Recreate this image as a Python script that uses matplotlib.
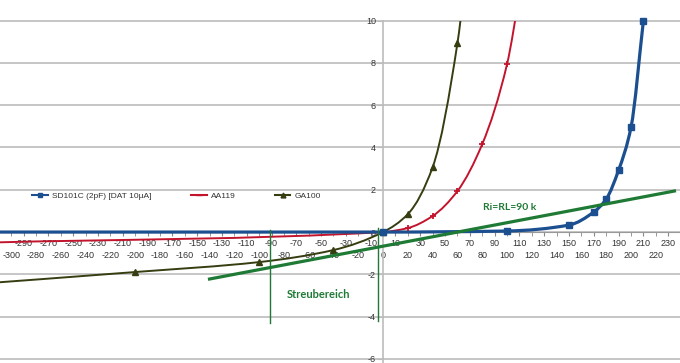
import numpy as np
import matplotlib
matplotlib.use("Agg")
import matplotlib.pyplot as plt
from matplotlib.path import Path
from matplotlib.patches import PathPatch, Rectangle
from matplotlib.lines import Line2D
from matplotlib.ticker import FormatStrFormatter

plt.rcParams['font.family'] = ['Liberation Sans', 'DejaVu Sans']

# diode curves: voltage (mV) vs current (µA)
sd_x = [-320, 0, 100, 150, 170, 180, 190, 200, 210]
sd_y = [0.0, 0.0, 0.05, 0.33, 0.95, 1.56, 2.93, 4.96, 10.0]

aa_x = [-320, 0, 20, 40, 60, 80, 100, 110]
aa_y = [-0.5, 0.0, 0.19, 0.76, 1.94, 4.16, 7.94, 11.2]

ga_x = [-350, -200, -100, -40, 0, 20, 40, 60, 70]
ga_y = [-2.55, -1.89, -1.42, -0.85, 0.0, 0.85, 3.07, 8.94, 14.0]

# load line Ri=RL=90 k and the scatter band
load_x = [-140, 235]
load_y = [-2.22, 1.94]
band_x = [-91, -4]
band_top = [0.1, 0.2]
band_bottom = [-4.3, -4.2]

labels = ['SD101C (2pF) [DAT 10µA]', 'AA119', 'GA100']
y_ticks = [-6, -4, -2, 0, 2, 4, 6, 8, 10]

XLIM = (-309, 239.5)
YLIM = (-6.19, 10.97)

c_blue = '#1b4f8f'
c_red = '#c3142d'
c_olive = '#363d10'
c_green = '#1f7a35'
c_text = '#333333'


def smooth_path(xs, ys):
    # monotone cubic (pchip-like) drawn as bezier segments
    x = np.asarray(xs, float)
    y = np.asarray(ys, float)
    h = np.diff(x)
    d = np.diff(y) / h
    m = np.zeros_like(x)
    m[0], m[-1] = d[0], d[-1]
    for i in range(1, len(x) - 1):
        if d[i - 1] * d[i] > 0:
            w1 = 2 * h[i] + h[i - 1]
            w2 = h[i] + 2 * h[i - 1]
            m[i] = (w1 + w2) / (w1 / d[i - 1] + w2 / d[i])
    verts = [(x[0], y[0])]
    codes = [Path.MOVETO]
    for i in range(len(x) - 1):
        verts += [(x[i] + h[i] / 3, y[i] + m[i] * h[i] / 3),
                  (x[i + 1] - h[i] / 3, y[i + 1] - m[i + 1] * h[i] / 3),
                  (x[i + 1], y[i + 1])]
        codes += [Path.CURVE4] * 3
    return Path(verts, codes)


fig = plt.figure(figsize=(6.8, 3.63), dpi=100)
ax = fig.add_axes([0, 0, 1, 1])
ax.set_xlim(*XLIM)
ax.set_ylim(*YLIM)

# plot area ends at 10
clip = Rectangle((XLIM[0], YLIM[0]), XLIM[1] - XLIM[0], 10 - YLIM[0],
                 transform=ax.transData)

ax.set_yticks(y_ticks)
ax.yaxis.set_major_formatter(FormatStrFormatter('%d'))
ax.yaxis.grid(True, color='#bcbcbc', lw=1.2)
ax.set_axisbelow(True)

ax.set_xticks(np.arange(-290, 231, 20))
ax.set_xticks(np.arange(-300, 221, 20), minor=True)
ax.xaxis.set_major_formatter(FormatStrFormatter('%d'))
ax.xaxis.set_minor_formatter(FormatStrFormatter('%d'))
ax.tick_params(axis='x', which='major', length=3, pad=2.0, labelsize=6.5,
               color='#888888', labelcolor=c_text)
ax.tick_params(axis='x', which='minor', length=3, pad=10.5, labelsize=6.5,
               color='#888888', labelcolor=c_text)
ax.tick_params(axis='y', length=4, pad=1.2, labelsize=6.5,
               color='#bcbcbc', labelcolor=c_text)

for s in ['top', 'right']:
    ax.spines[s].set_visible(False)
ax.spines['left'].set_position(('data', 0))
ax.spines['left'].set_bounds(YLIM[0], 10)
ax.spines['left'].set_color('#bcbcbc')
ax.spines['left'].set_linewidth(1.2)
ax.spines['bottom'].set_position(('data', 0))
ax.spines['bottom'].set_color('#999999')

series = [(ga_x, ga_y, c_olive, 1.4, '^', 4.5),
          (aa_x, aa_y, c_red, 1.4, '+', 5),
          (sd_x, sd_y, c_blue, 2.3, 's', 4.8)]
for xs, ys, col, lw, mk, ms in series:
    patch = PathPatch(smooth_path(xs, ys), fill=False, edgecolor=col,
                      lw=lw, zorder=3)
    ax.add_patch(patch)
    patch.set_clip_path(clip)
    ax.plot(xs, ys, linestyle='none', marker=mk, ms=ms, color=col,
            mew=1.3 if mk == '+' else 1, zorder=4)

# load line and scatter band
ax.plot(load_x, load_y, color=c_green, lw=2.3, zorder=5)
for bx, bt, bb in zip(band_x, band_top, band_bottom):
    ax.plot([bx, bx], [bt, bb], color=c_green, lw=1.0, zorder=5)

ax.text(102, 1.18, 'Ri=RL=90 k', color=c_green, fontsize=7.5,
        fontweight='bold', family='Lato', ha='center', va='center')
ax.text(-52, -2.93, 'Streubereich', color=c_green, fontsize=8,
        fontweight='bold', family='Lato', ha='center', va='center')

handles = [Line2D([], [], color=c_blue, lw=1.5, marker='s', ms=3.5),
           Line2D([], [], color=c_red, lw=1.5, marker='_', ms=4),
           Line2D([], [], color=c_olive, lw=1.5, marker='^', ms=3.5)]
leg = ax.legend(handles, labels, ncol=3, frameon=False, fontsize=6.0,
                loc='center left', bbox_to_anchor=(32 / 680, 0.46),
                borderpad=0, borderaxespad=0, handlelength=1.9,
                handletextpad=0.5, columnspacing=4.7)
for t in leg.get_texts():
    t.set_color(c_text)

fig.savefig('out.png', dpi=100)
